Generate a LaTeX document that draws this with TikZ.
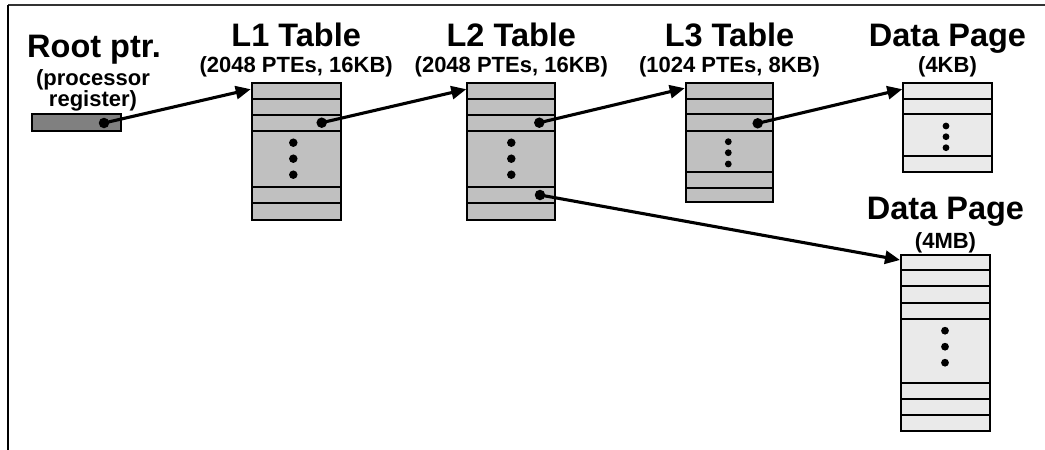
\documentclass[tikz,border=0pt]{standalone}
\usepackage{fontspec}
\setmainfont{Liberation Sans}
\usetikzlibrary{arrows.meta,calc}
\definecolor{tblgray}{HTML}{C0C0C0}
\definecolor{reggray}{HTML}{808080}
\definecolor{pagegray}{HTML}{EAEAEA}
\begin{document}
\begin{tikzpicture}[x=1pt,y=-1pt,
  tbl/.style={draw=black, line width=2.1pt, fill=tblgray, anchor=north west, inner sep=0pt, outer sep=0pt},
  page/.style={tbl, fill=pagegray},
  reg/.style={tbl, fill=reggray},
  rowline/.style={draw=black, line width=1.9pt},
  ptr/.style={circle, fill=black, inner sep=0pt, minimum size=10.5pt},
  edot/.style={circle, fill=black, inner sep=0pt, minimum size=#1},
  arr/.style={line width=3.1pt, -{Triangle[length=15pt,width=13pt]}},
  title/.style={anchor=base, font=\fontsize{32.5}{32.5}\selectfont\bfseries, inner sep=0pt},
  sub/.style={anchor=base, font=\fontsize{22}{22}\selectfont\bfseries, inner sep=0pt},
  frameline/.style={line width=2.6pt, draw=black}
]
\useasboundingbox (0,0) rectangle (1045,450);
% frame
\coordinate (fTL) at (8,5);
\coordinate (fTR) at (1045,5);
\coordinate (fBL) at (8,450);
\draw[line width=1.6pt, draw=black!80] (fTL) -- (fTR);
\draw[frameline] (fTL) -- (fBL);

% titles
\node[title] (tRoot) at (94,57) {Root ptr.};
\node[sub, align=center, font=\fontsize{22}{21.5}\selectfont\bfseries] (tProc) at (93,106.5) {(processor\\register)};
\node[title] (tL1) at (296.2,46) {L1 Table};
\node[sub] (sL1) at (296.2,72) {(2048 PTEs, 16KB)};
\node[title] (tL2) at (511.3,46) {L2 Table};
\node[sub] (sL2) at (511.3,72) {(2048 PTEs, 16KB)};
\node[title] (tL3) at (729.5,46) {L3 Table};
\node[sub] (sL3) at (729.5,72) {(1024 PTEs, 8KB)};
\node[title] (tDP) at (947.5,46) {Data Page};
\node[sub] (sDP) at (947.5,72) {(4KB)};
\node[title] (tDP2) at (945.5,219) {Data Page};
\node[sub] (sDP2) at (945.5,248) {(4MB)};

% root register
\node[reg, minimum width=89pt, minimum height=17pt] (root) at (32,114) {};

% L1 table
\node[tbl, minimum width=89pt, minimum height=137.3pt] (l1) at (251.7,82.7) {};
\foreach \yy in {98.7,114.7,131,187.3,202.7}
  \draw[rowline] (l1.west |- 0,\yy) -- (l1.east |- 0,\yy);
\foreach \yy/\nm in {142.7/a,158.7/b,174.7/c}
  \node[edot=8.5pt] (l1d\nm) at (293.3,\yy) {};

% L2 table
\node[tbl, minimum width=88pt, minimum height=137.3pt] (l2) at (467.3,82.7) {};
\foreach \yy in {98.7,114.7,131,187.3,203.3}
  \draw[rowline] (l2.west |- 0,\yy) -- (l2.east |- 0,\yy);
\foreach \yy/\nm in {142.7/a,158.7/b,174.7/c}
  \node[edot=8.5pt] (l2d\nm) at (511.3,\yy) {};

% L3 table
\node[tbl, minimum width=87.6pt, minimum height=119.6pt] (l3) at (685.7,82.7) {};
\foreach \yy in {98.7,114.3,131,171.7,187.7}
  \draw[rowline] (l3.west |- 0,\yy) -- (l3.east |- 0,\yy);
\foreach \yy/\nm in {141.7/a,152.7/b,164/c}
  \node[edot=6.8pt] (l3d\nm) at (728.3,\yy) {};

% Data page 4KB
\node[page, minimum width=88.4pt, minimum height=89pt] (dp) at (903.3,82.7) {};
\foreach \yy in {98.7,114.3,156}
  \draw[rowline] (dp.west |- 0,\yy) -- (dp.east |- 0,\yy);
\foreach \yy/\nm in {126/a,136.7/b,147.7/c}
  \node[edot=6.8pt] (dpd\nm) at (946,\yy) {};

% Data page 4MB
\node[page, minimum width=89pt, minimum height=175.7pt] (dp2) at (901,255) {};
\foreach \yy in {270,286,302.7,318.7,383.3,399.3,415.3}
  \draw[rowline] (dp2.west |- 0,\yy) -- (dp2.east |- 0,\yy);
\foreach \yy/\nm in {330.7/a,346.7/b,362.7/c}
  \node[edot=7.8pt] (dp2d\nm) at (945,\yy) {};

% pointer dots
\node[ptr] (p0) at (104,123) {};
\node[ptr] (p1) at (321.7,122.7) {};
\node[ptr] (p2) at (539.3,122.7) {};
\node[ptr] (p2b) at (540,195) {};
\node[ptr] (p3) at (757.7,123.3) {};

% arrow targets
\coordinate (a1) at ($(l1.north west)+(-1,6.5)$);
\coordinate (a2) at ($(l2.north west)+(-1,6.5)$);
\coordinate (a3) at ($(l3.north west)+(-1,5.5)$);
\coordinate (a4) at ($(dp.north west)+(-1,6.5)$);
\coordinate (a5) at ($(dp2.north west)+(-1,5)$);

\draw[arr] (p0.center) -- (a1);
\draw[arr] (p1.center) -- (a2);
\draw[arr] (p2.center) -- (a3);
\draw[arr] (p3.center) -- (a4);
\draw[arr] (p2b.center) -- (a5);
\end{tikzpicture}
\end{document}
